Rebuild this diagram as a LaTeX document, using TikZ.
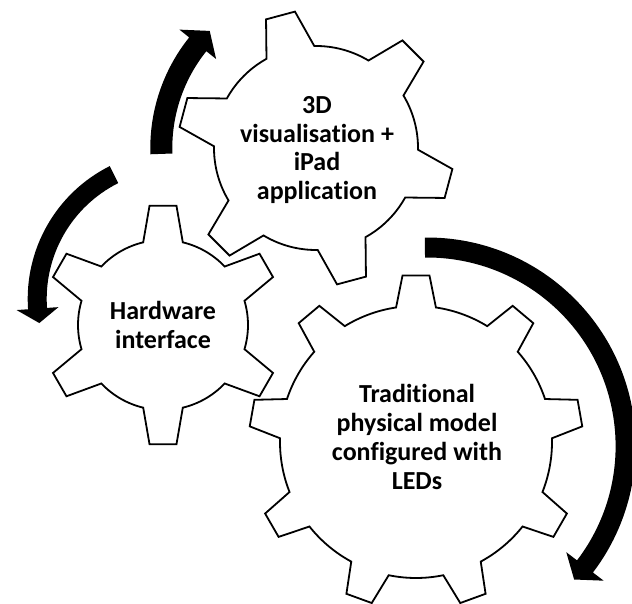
\documentclass[tikz,border=0pt]{standalone}
\usepackage{fontspec}
\setmainfont{Carlito}[Ligatures=NoCommon]
\newcommand\drawgear[8]{%
  \pgfmathsetmacro\gStep{360/#5}%
  \pgfmathsetmacro\gAo{deg(#7/#3)}%
  \pgfmathsetmacro\gAb{deg(#8/#4)}%
  \pgfmathtruncatemacro\gLast{#5-1}%
  \draw[gearline, shift={(#1,#2)}] (#6-\gAb:#4pt)
    \foreach \k in {0,...,\gLast} {
      -- (#6+\k*\gStep-\gAo:#3pt) -- (#6+\k*\gStep+\gAo:#3pt) -- (#6+\k*\gStep+\gAb:#4pt)
      arc[start angle=#6+\k*\gStep+\gAb, end angle=#6+\k*\gStep+\gStep-\gAb, radius=#4pt]
    } -- cycle;}
\newcommand\drawturn[8]{%
  \pgfmathsetmacro\trOut{#3+#4}%
  \pgfmathsetmacro\trIn{#3-#4}%
  \pgfmathsetmacro\trHOut{#3+#8}%
  \pgfmathsetmacro\trHIn{#3-#8}%
  \fill[turnarrow, shift={(#1,#2)}]
    (#5:\trOut pt) arc[start angle=#5, end angle=#6, radius=\trOut pt]
    -- (#6:\trHOut pt) -- (#7:#3pt) -- (#6:\trHIn pt) -- (#6:\trIn pt)
    arc[start angle=#6, end angle=#5, radius=\trIn pt] -- cycle;}
\begin{document}
\begin{tikzpicture}[x=1pt,y=1pt,
  gearline/.style={draw=black, line width=1.8pt, line join=miter},
  gearlabel/.style={align=center, font=\fontsize{26}{28.8}\selectfont\bfseries, inner sep=0pt},
  turnarrow/.style={fill=black}]
\useasboundingbox (0,0) rectangle (632,603);
% gears
\drawgear{163}{278}{120}{85}{6}{90}{13.5}{20}
\drawgear{316}{455}{138}{102}{6}{105}{15}{25}
\drawgear{416}{161}{167}{136}{9}{90}{13.5}{20}
% turning arrows
\drawturn{327.3}{454.9}{166}{11}{182}{141.3}{135.1}{23.5}
\drawturn{176.2}{304.1}{139}{9.5}{116.6}{184}{190}{21}
\drawturn{427}{156.9}{198.6}{10}{90.6}{-37.3}{-42.2}{23.5}
% labels
\node[gearlabel] (viz) at (317,453) {3D\\visualisation +\\iPad\\application};
\node[gearlabel] (hw) at (163,278) {Hardware\\interface};
\node[gearlabel] (model) at (417,166) {Traditional\\physical model\\configured with\\LEDs};
\end{tikzpicture}
\end{document}
